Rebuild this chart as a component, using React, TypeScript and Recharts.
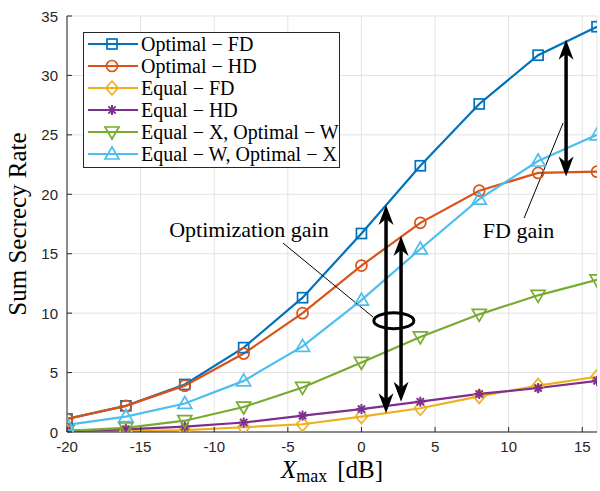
import React from "react";
import {
  LineChart,
  Line,
  XAxis,
  YAxis,
  CartesianGrid,
  Legend,
  ReferenceLine,
  ReferenceDot,
  Label,
} from "recharts";

// x values (Xmax in dB)
const xMax = [-20, -16, -12, -8, -4, 0, 4, 8, 12, 16];

// series
const optimalFD = [1.1, 2.2, 4.0, 7.1, 11.3, 16.7, 22.4, 27.6, 31.7, 34.1];
const optimalHD = [1.1, 2.2, 3.9, 6.6, 10.0, 14.0, 17.6, 20.3, 21.8, 21.9];
const equalFD = [0.02, 0.08, 0.15, 0.4, 0.65, 1.3, 2.0, 3.0, 3.9, 4.65];
const equalHD = [0.1, 0.22, 0.45, 0.8, 1.38, 1.93, 2.55, 3.2, 3.7, 4.3];
const equalXOptW = [0.1, 0.35, 0.95, 2.1, 3.75, 5.85, 8.0, 9.9, 11.5, 12.8];
const equalWOptX = [0.6, 1.3, 2.4, 4.3, 7.2, 11.1, 15.4, 19.6, 22.8, 25.0];

const xTicks = [-20, -15, -10, -5, 0, 5, 10, 15];
const yTicks = [0, 5, 10, 15, 20, 25, 30, 35];

const seriesNames = [
  "Optimal − FD",
  "Optimal − HD",
  "Equal − FD",
  "Equal − HD",
  "Equal − X, Optimal − W",
  "Equal − W, Optimal − X",
];

const chartData = xMax.map((x, i) => ({
  x,
  ofd: optimalFD[i],
  ohd: optimalHD[i],
  efd: equalFD[i],
  ehd: equalHD[i],
  exow: equalXOptW[i],
  ewox: equalWOptX[i],
}));

const series = [
  { key: "ofd", color: "#0072BD", marker: "square" },
  { key: "ohd", color: "#D95319", marker: "circle" },
  { key: "efd", color: "#EDB120", marker: "diamond" },
  { key: "ehd", color: "#7E2F8E", marker: "star" },
  { key: "exow", color: "#77AC30", marker: "down" },
  { key: "ewox", color: "#4DBEEE", marker: "up" },
];

const SERIF = "'Liberation Serif', 'Times New Roman', serif";
const SANS = "'Liberation Sans', Arial, Helvetica, sans-serif";
const AXIS = "#262626";

function Marker({ kind, cx, cy, color }: { kind: string; cx: number; cy: number; color: string }) {
  const sw = 1.7;
  switch (kind) {
    case "square":
      return <rect x={cx - 5} y={cy - 5} width={10} height={10} fill="none" stroke={color} strokeWidth={sw} />;
    case "circle":
      return <circle cx={cx} cy={cy} r={5.5} fill="none" stroke={color} strokeWidth={sw} />;
    case "diamond":
      return (
        <polygon
          points={`${cx},${cy - 7} ${cx + 6},${cy} ${cx},${cy + 7} ${cx - 6},${cy}`}
          fill="none"
          stroke={color}
          strokeWidth={sw}
        />
      );
    case "star": {
      const r = 5;
      const d = 3.6;
      return (
        <g stroke={color} strokeWidth={2}>
          <line x1={cx - r} y1={cy} x2={cx + r} y2={cy} />
          <line x1={cx} y1={cy - r} x2={cx} y2={cy + r} />
          <line x1={cx - d} y1={cy - d} x2={cx + d} y2={cy + d} />
          <line x1={cx - d} y1={cy + d} x2={cx + d} y2={cy - d} />
        </g>
      );
    }
    case "down":
      return (
        <polygon
          points={`${cx - 7},${cy - 5} ${cx + 7},${cy - 5} ${cx},${cy + 7}`}
          fill="none"
          stroke={color}
          strokeWidth={sw}
        />
      );
    default:
      return (
        <polygon
          points={`${cx - 7},${cy + 5} ${cx + 7},${cy + 5} ${cx},${cy - 7}`}
          fill="none"
          stroke={color}
          strokeWidth={sw}
        />
      );
  }
}

const makeDot = (kind: string, color: string) => (props: any) => {
  const { cx, cy, index } = props;
  if (cx == null || cy == null) return <g key={`d-${kind}-${index}`} />;
  return (
    <g key={`d-${kind}-${index}`}>
      <Marker kind={kind} cx={cx} cy={cy} color={color} />
    </g>
  );
};

// ticks drawn inward, like the original figure
const BottomTick = (props: any) => {
  const { x, y, payload } = props;
  return (
    <g>
      <line x1={x} x2={x} y1={y} y2={y - 5} stroke={AXIS} />
      <text x={x} y={y + 20} textAnchor="middle" fontFamily={SANS} fontSize={15} fill={AXIS}>
        {payload.value}
      </text>
    </g>
  );
};
const TopTick = (props: any) => {
  const { x, y } = props;
  return <line x1={x} x2={x} y1={y} y2={y + 5} stroke={AXIS} />;
};
const LeftTick = (props: any) => {
  const { x, y, payload } = props;
  return (
    <g>
      <line x1={x} x2={x + 5} y1={y} y2={y} stroke={AXIS} />
      <text x={x - 9} y={y + 5.5} textAnchor="end" fontFamily={SANS} fontSize={15} fill={AXIS}>
        {payload.value}
      </text>
    </g>
  );
};
const RightTick = (props: any) => {
  const { x, y } = props;
  return <line x1={x} x2={x - 5} y1={y} y2={y} stroke={AXIS} />;
};

const DoubleArrow = (props: any) => {
  const { x1, y1, x2, y2 } = props;
  const dx = x2 - x1;
  const dy = y2 - y1;
  const len = Math.hypot(dx, dy) || 1;
  const ux = dx / len;
  const uy = dy / len;
  const L = 20;
  const W = 7.5;
  const N = 14;
  const head = (tx: number, ty: number, sx: number, sy: number) => {
    const px = -sy;
    const py = sx;
    return `${tx},${ty} ${tx + sx * L + px * W},${ty + sy * L + py * W} ${tx + sx * N},${ty + sy * N} ${
      tx + sx * L - px * W
    },${ty + sy * L - py * W}`;
  };
  return (
    <g>
      <line x1={x1 + ux * N} y1={y1 + uy * N} x2={x2 - ux * N} y2={y2 - uy * N} stroke="#000" strokeWidth={3.5} />
      <polygon points={head(x1, y1, ux, uy)} fill="#000" />
      <polygon points={head(x2, y2, -ux, -uy)} fill="#000" />
    </g>
  );
};

const ThinLine = (props: any) => {
  const { x1, y1, x2, y2 } = props;
  return <line x1={x1} y1={y1} x2={x2} y2={y2} stroke="#000" strokeWidth={1} />;
};

const LegendBox = () => (
  <div
    style={{
      width: 257,
      height: 136,
      boxSizing: "border-box",
      border: `1px solid ${AXIS}`,
      background: "#fff",
      padding: "0 0 0 4px",
      fontFamily: SERIF,
      fontSize: 20,
      color: "#000",
    }}
  >
    {series.map((s, i) => (
      <div key={s.key} style={{ display: "flex", alignItems: "center", height: 22 }}>
        <svg width={50} height={22} style={{ flex: "none" }}>
          <line x1={0} x2={50} y1={11} y2={11} stroke={s.color} strokeWidth={2.2} />
          <Marker kind={s.marker} cx={24} cy={11} color={s.color} />
        </svg>
        <span style={{ marginLeft: 3, whiteSpace: "nowrap", lineHeight: "22px" }}>{seriesNames[i]}</span>
      </div>
    ))}
  </div>
);

export default function App() {
  return (
    <div style={{ position: "absolute", left: 0, top: 0, width: 600, height: 491, background: "#fff" }}>
      <LineChart width={600} height={491} data={chartData} margin={{ top: 16, right: 3, left: 0, bottom: 0 }}>
        <CartesianGrid stroke="#e3e3e3" strokeWidth={1} />
        <XAxis
          dataKey="x"
          type="number"
          domain={[-20, 16]}
          ticks={xTicks}
          height={59}
          tickSize={0}
          tickMargin={0}
          tickLine={false}
          tick={<BottomTick />}
          axisLine={{ stroke: AXIS }}
          allowDataOverflow
        >
          <Label
            content={(p: any) => {
              const vb = p.viewBox || {};
              const cx = (vb.x ?? 67) + (vb.width ?? 530) / 2;
              const by = (vb.y ?? 432) + 46;
              return (
                <text x={cx} y={by} textAnchor="middle" fontFamily={SERIF} fontSize={25} fill="#000">
                  <tspan fontStyle="italic">X</tspan>
                  <tspan fontSize={18} dy={4}>
                    max
                  </tspan>
                  <tspan dy={-4} dx={10}>
                    [dB]
                  </tspan>
                </text>
              );
            }}
          />
        </XAxis>
        <XAxis
          xAxisId="top"
          orientation="top"
          dataKey="x"
          type="number"
          domain={[-20, 16]}
          ticks={xTicks}
          height={0}
          tickSize={0}
          tickMargin={0}
          tickLine={false}
          tick={<TopTick />}
          axisLine={{ stroke: AXIS }}
          allowDataOverflow
        />
        <YAxis
          type="number"
          domain={[0, 35]}
          ticks={yTicks}
          width={67}
          tickSize={0}
          tickMargin={0}
          tickLine={false}
          tick={<LeftTick />}
          axisLine={{ stroke: AXIS }}
          allowDataOverflow
        >
          <Label
            content={(p: any) => {
              const vb = p.viewBox || {};
              const cy = (vb.y ?? 16) + (vb.height ?? 416) / 2;
              const bx = 26;
              return (
                <text
                  x={bx}
                  y={cy}
                  textAnchor="middle"
                  transform={`rotate(-90, ${bx}, ${cy})`}
                  fontFamily={SERIF}
                  fontSize={25}
                  fill="#000"
                >
                  Sum Secrecy Rate
                </text>
              );
            }}
          />
        </YAxis>
        <YAxis
          yAxisId="right"
          orientation="right"
          type="number"
          domain={[0, 35]}
          ticks={yTicks}
          width={0}
          tickSize={0}
          tickMargin={0}
          tickLine={false}
          tick={<RightTick />}
          axisLine={{ stroke: AXIS }}
          allowDataOverflow
        />
        {series.map((s, i) => (
          <Line
            key={s.key}
            name={seriesNames[i]}
            dataKey={s.key}
            stroke={s.color}
            strokeWidth={2.2}
            dot={makeDot(s.marker, s.color)}
            activeDot={false}
            legendType="none"
            isAnimationActive={false}
          />
        ))}
        <ReferenceLine
          segment={[
            { x: 1.67, y: 1.57 },
            { x: 1.67, y: 19.1 },
          ]}
          shape={<DoubleArrow />}
        />
        <ReferenceLine
          segment={[
            { x: 2.69, y: 2.55 },
            { x: 2.69, y: 16.5 },
          ]}
          shape={<DoubleArrow />}
        />
        <ReferenceLine
          segment={[
            { x: 13.9, y: 21.5 },
            { x: 13.9, y: 33.0 },
          ]}
          shape={<DoubleArrow />}
        />
        <ReferenceLine
          segment={[
            { x: -5.33, y: 15.9 },
            { x: 0.79, y: 9.67 },
          ]}
          shape={<ThinLine />}
        />
        <ReferenceLine
          segment={[
            { x: 11.05, y: 18.0 },
            { x: 13.7, y: 26.0 },
          ]}
          shape={<ThinLine />}
        />
        <ReferenceDot
          x={2.2}
          y={9.36}
          r={20}
          shape={(p: any) => (
            <ellipse cx={p.cx} cy={p.cy} rx={20} ry={8} fill="none" stroke="#000" strokeWidth={3} />
          )}
        />
        <ReferenceDot
          x={-7.64}
          y={16.4}
          r={1}
          shape={(p: any) => (
            <text x={p.cx} y={p.cy} textAnchor="middle" fontFamily={SERIF} fontSize={22} fill="#000">
              Optimization gain
            </text>
          )}
        />
        <ReferenceDot
          x={10.67}
          y={16.3}
          r={1}
          shape={(p: any) => (
            <text x={p.cx} y={p.cy} textAnchor="middle" fontFamily={SERIF} fontSize={22} fill="#000">
              FD gain
            </text>
          )}
        />
        <Legend
          layout="vertical"
          align="center"
          verticalAlign="middle"
          wrapperStyle={{ left: 83, top: 32, width: 257, height: 136 }}
          content={<LegendBox />}
        />
      </LineChart>
    </div>
  );
}
